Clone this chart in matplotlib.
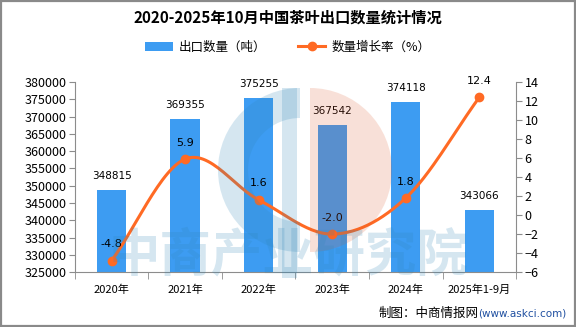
import numpy as np
import matplotlib
matplotlib.use("Agg")
import matplotlib.pyplot as plt
from matplotlib.patches import Wedge, Rectangle
from matplotlib.lines import Line2D

plt.rcParams["font.family"] = ["Noto Sans CJK SC", "DejaVu Sans"]

# Data
categories = ["2020年", "2021年", "2022年", "2023年", "2024年", "2025年1-9月"]
export_volume = [348815, 369355, 375255, 367542, 374118, 343066]
growth_rate = [-4.8, 5.9, 1.6, -2.0, 1.8, 12.4]

BAR_COLOR = "#3d9cf2"
LINE_COLOR = "#ff6a24"
AXIS_COLOR = "#8c8c8c"


def smooth_curve(x, y, steps=30):
    """Catmull-Rom curve through the points, for the smooth line look."""
    x = np.asarray(x, float)
    y = np.asarray(y, float)
    px = np.concatenate([[2 * x[0] - x[1]], x, [2 * x[-1] - x[-2]]])
    py = np.concatenate([[2 * y[0] - y[1]], y, [2 * y[-1] - y[-2]]])
    xs, ys = [], []
    t = np.linspace(0, 1, steps)
    for i in range(1, len(px) - 2):
        for p, out in ((px, xs), (py, ys)):
            p0, p1, p2, p3 = p[i - 1], p[i], p[i + 1], p[i + 2]
            out.extend(0.5 * ((2 * p1) + (-p0 + p2) * t
                              + (2 * p0 - 5 * p1 + 4 * p2 - p3) * t ** 2
                              + (-p0 + 3 * p1 - 3 * p2 + p3) * t ** 3))
    return np.array(xs), np.array(ys)


fig = plt.figure(figsize=(5.76, 3.27), dpi=100)
fig.patches.append(Rectangle((0.002, 0.003), 0.996, 0.994, transform=fig.transFigure,
                             fill=False, edgecolor="#8a8a8a", linewidth=1.6))

ax = fig.add_axes([0.130, 0.168, 0.766, 0.581])
x = np.arange(len(categories))

ax.bar(x, export_volume, width=0.4, color=BAR_COLOR, zorder=2)
for xi, v in zip(x, export_volume):
    ax.text(xi, v + 2600, str(v), ha="center", va="bottom", fontsize=7.5,
            family=["DejaVu Sans"], zorder=5)

ax.set_ylim(325000, 380000)
ax.set_yticks(np.arange(325000, 380001, 5000))
ax.set_xlim(-0.5, len(categories) - 0.5)
ax.set_xticks(x)
ax.set_xticklabels(categories, fontsize=8)
ax.set_xticks(np.arange(-0.5, len(categories), 1), minor=True)
ax.tick_params(axis="x", which="major", length=0, pad=9)
ax.tick_params(axis="x", which="minor", length=5, color=AXIS_COLOR)
ax.tick_params(axis="y", length=4, color=AXIS_COLOR, labelsize=9, pad=2)
for side in ("top", "right"):
    ax.spines[side].set_visible(False)
for side in ("left", "bottom"):
    ax.spines[side].set_color(AXIS_COLOR)

ax2 = ax.twinx()
ax2.set_ylim(-6, 14)
ax2.set_yticks(np.arange(-6, 15, 2))
ax2.tick_params(axis="y", length=4, color=AXIS_COLOR, labelsize=9, pad=2)
for side in ("top", "left", "bottom"):
    ax2.spines[side].set_visible(False)
ax2.spines["right"].set_color(AXIS_COLOR)

sx, sy = smooth_curve(x, growth_rate)
ax2.plot(sx, sy, color=LINE_COLOR, linewidth=2.2, zorder=3, solid_capstyle="round")
ax2.plot(x, growth_rate, "o", color=LINE_COLOR, markersize=6, zorder=4)
for xi, v in zip(x, growth_rate):
    ax2.text(xi, v + 1.2, f"{v:.1f}", ha="center", va="bottom", fontsize=8,
             family=["DejaVu Sans"], zorder=5)

# Watermark (logo + site name), drawn faintly over everything
wm = fig.add_axes([0, 0, 1, 1], facecolor="none")
wm.set_xlim(0, 576)
wm.set_ylim(327, 0)
wm.axis("off")
wm.add_patch(Wedge((300, 170), 82, 90, 270, width=30, facecolor="#2e86b8",
                   alpha=0.2, edgecolor="none"))
wm.add_patch(Rectangle((282, 88), 15, 190, facecolor="#2e86b8", alpha=0.2,
                       edgecolor="none"))
wm.add_patch(Wedge((310, 170), 82, -90, 90, facecolor="#dd5528", alpha=0.18,
                   edgecolor="none"))
wm.text(288, 255, "中商产业研究院", ha="center", va="center", fontsize=37,
        fontweight="bold", color="#2e86b8", alpha=0.2)

fig.text(0.5, 0.945, "2020-2025年10月中国茶叶出口数量统计情况", ha="center",
         va="center", fontsize=11, fontweight="bold")

handles = [Rectangle((0, 0), 1, 1, facecolor=BAR_COLOR),
           Line2D([0], [0], color=LINE_COLOR, linewidth=2.2, marker="o", markersize=6)]
fig.legend(handles, ["出口数量（吨）", "数量增长率（%）"], loc="center",
           bbox_to_anchor=(0.5, 0.856), ncol=2, frameon=False, fontsize=9,
           handlelength=2.2, columnspacing=2.5, handletextpad=0.5)

fig.text(0.83, 0.04, "制图：中商情报网", ha="right", va="center", fontsize=9)
fig.text(0.83, 0.04, "(www.askci.com)", ha="left", va="center", fontsize=7.5,
         color="#1f4fa0", family=["DejaVu Sans"])

fig.savefig("out.png", dpi=100)
